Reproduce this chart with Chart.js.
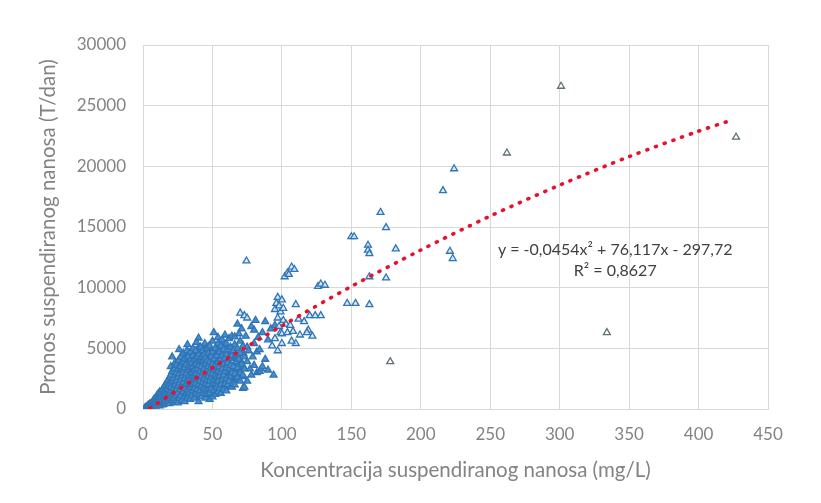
<!DOCTYPE html>
<html>
<head>
<meta charset="utf-8">
<script src="https://cdn.jsdelivr.net/npm/chart.js@4.4.0/dist/chart.umd.min.js"></script>
<style>
  html, body { margin: 0; padding: 0; background: #ffffff; }
  #wrap { position: relative; width: 821px; height: 503px; }
</style>
</head>
<body>
<div id="wrap"><canvas id="c" width="821" height="503"></canvas></div>
<script>
// ---------- DATA ----------
const xAxisTitle = 'Koncentracija suspendiranog nanosa (mg/L)';
const yAxisTitle = 'Pronos suspendiranog nanosa (T/dan)';
const xTicks = [0, 50, 100, 150, 200, 250, 300, 350, 400, 450];
const yTicks = [0, 5000, 10000, 15000, 20000, 25000, 30000];
const equationLines = ['y = -0,0454x² + 76,117x - 297,72', 'R² = 0,8627'];

// dense cluster of observations [concentration mg/L, transport T/dan]
const clusterPoints = [
  [1,30],[1.5,60],[2,90],[2,150],[2.5,120],[3,200],[3,80],[3.5,260],
  [4,150],[4,330],[4.5,240],[5,120],[5,420],[5,300],[5.5,200],[6,500],[6,350],[6,160],
  [7,250],[7,600],[7,430],[7.5,700],[8,320],[8,520],[8,800],[8.5,400],[9,650],[9,230],[9,900],
  [10,300],[10,560],[10,820],[10,1100],[10.5,700],[11,420],[11,950],[11,1250],[11.5,600],[12,250],[12,800],[12,1100],[12,1400],
  [13,500],[13,950],[13,1300],[13.5,700],[14,350],[14,1150],[14,1600],[14.5,900],[15,600],[15,1350],[15,1800],[15.5,1050],[15,400],
  [16,750],[16,1200],[16,1550],[16,2000],[16.5,500],[17,950],[17,1400],[17,1750],[17.5,2200],[18,650],[18,1100],[18,1600],[18,2400],[18.5,1900],
  [19,450],[19,850],[19,1300],[19,2100],[19.5,2600],[20,1000],[20,1500],[20,1800],[20,2800],[20,3500],[20.5,700],[21,1200],[21,2300],[21,4300],[21,3100],
  [22,550],[22,900],[22,1700],[22,2500],[22.5,3300],[23,1400],[23,2000],[23,2800],[23,3800],[23.5,1100],[24,700],[24,1600],[24,2300],[24,3000],[24,3600],
  [25,500],[25,1300],[25,1900],[25,2600],[25,3300],[25.5,4000],[26,900],[26,2100],[26,2900],[26,4900],[26.5,1600],[27,1100],[27,2400],[27,3500],[27,4300],
  [28,700],[28,1800],[28,2700],[28,3200],[28.5,3900],[29,1400],[29,2200],[29,3000],[29,4600],[29.5,1000],[30,1700],[30,2500],[30,3400],[30,4100],[30,600],
  [31,1200],[31,2000],[31,2900],[31,3700],[31.5,4800],[32,900],[32,1600],[32,2400],[32,3200],[32,5300],[32.5,4300],[33,1300],[33,2100],[33,2700],[33,3600],
  [34,800],[34,1800],[34,2500],[34,3400],[34,4000],[34.5,4700],[35,1100],[35,2200],[35,3000],[35,3800],[35.5,1500],[36,2000],[36,2700],[36,3500],[36,4400],[36,5000],
  [37,900],[37,1700],[37,2400],[37,3200],[37,4100],[38,1300],[38,2100],[38,2900],[38,3700],[38,4800],[38.5,5500],[39,1600],[39,2500],[39,3300],[39,4300],
  [40,600],[40,1200],[40,2000],[40,2800],[40,3600],[40,4500],[40,5850],[41,1500],[41,2300],[41,3100],[41,3900],[41.5,5100],[42,1000],[42,1900],[42,2700],[42,3500],[42,4300],
  [43,1300],[43,2200],[43,3000],[43,4000],[43,4800],[44,1700],[44,2500],[44,3300],[44,4500],[44.5,5400],[45,900],[45,1500],[45,2100],[45,2900],[45,3700],[45,4200],
  [46,1200],[46,2400],[46,3200],[46,4000],[46,5000],[47,1600],[47,2000],[47,2700],[47,3500],[47,4600],[48,800],[48,1300],[48,2300],[48,3000],[48,3900],[48,5200],
  [49,1700],[49,2600],[49,3400],[49,4300],[50,1000],[50,2000],[50,2900],[50,3700],[50,4700],[50,5600],[51,1500],[51,2400],[51,3200],[51,4100],[51,6300],
  [52,1200],[52,2100],[52,2800],[52,3600],[52,5000],[53,1800],[53,2600],[53,3400],[53,4400],[54,1400],[54,2300],[54,3100],[54,3900],[54,5400],[54,5900],
  [55,1700],[55,2700],[55,3500],[55,4700],[56,2000],[56,3000],[56,4100],[56,5200],[56,1300],[57,2400],[57,3300],[57,4400],[57,5700],
  [58,1600],[58,2800],[58,3700],[58,4900],[59,2100],[59,3100],[59,4200],[59,6100],[60,1500],[60,2500],[60,3400],[60,4500],[60,5400],
  [61,2000],[61,3800],[61,4900],[62,2300],[62,3300],[62,4200],[62,5800],[63,2700],[63,3600],[63,5100],[64,1800],[64,3000],[64,4400],[64,6000],
  [65,2100],[65,3500],[65,4800],[66,2000],[66,2900],[66,5300],[66,5950],[67,3900],[67,4500],[68,2600],[68,3400],[68,5000],[68,7000],[69,4100],[69,6200],
  [70,2300],[70,3000],[70,4600],[70,5600],[71,3700],[71,6600],[72,1700],[72,2800],[72,5200],[73,1800],[73,3300],[73,4300],[74,6000],[75,2300],[75,3900],[75,5100],
  [76,4800],[77,3300],[78,6800],[78,2800],[79,4300],[80,3600],[80,5400],[80,6500],[81,7300],[82,3000],[82,4700],[83,5900],[84,4900],[84,3100],
  [85,3300],[86,3500],[86,6300],[88,7200],[88,4100],[90,3200],[90,5700],[92,6600],[94,2800],[95,6900]
];

// more observations inside the dense core
const corePoints = [
  [11,700],[13,1100],[14,750],[16,1000],[17,1200],[18,1350],[18,850],[19,1650],[20,1250],[20,2200],[21,1600],[21,1900],
  [22,1200],[22,2100],[22,2900],[23,1700],[23,2400],[23,3300],[24,1300],[24,1950],[24,2650],[25,1600],[25,2250],[25,2950],
  [26,1250],[26,1800],[26,2500],[26,3300],[26,3800],[27,1500],[27,2000],[27,2800],[27,3100],[28,1000],[28,1400],[28,2250],[28,3550],
  [29,1800],[29,2600],[29,3400],[29,4000],[30,1300],[30,2100],[30,2900],[30,3750],[31,1600],[31,2450],[31,3300],[31,4200],
  [32,1250],[32,2000],[32,2800],[32,3600],[32,4000],[33,1700],[33,2400],[33,3100],[33,4000],[33,4600],[34,1200],[34,2150],[34,2900],[34,3700],
  [35,1800],[35,2600],[35,3400],[35,4200],[36,1600],[36,2350],[36,3100],[36,3900],[37,1300],[37,2000],[37,2800],[37,3600],[37,4500],
  [38,1700],[38,2500],[38,3300],[38,4200],[39,1200],[39,2000],[39,2900],[39,3800],[39,4800],[40,1600],[40,2400],[40,3200],[40,4000],[40,5000],
  [41,1100],[41,1900],[41,2700],[41,3500],[41,4400],[42,1400],[42,2300],[42,3100],[42,3900],[42,4800],[43,1700],[43,2600],[43,3500],[43,4400],
  [44,1200],[44,2100],[44,2900],[44,3800],[44,4900],[45,1800],[45,2500],[45,3300],[45,4700],[46,1600],[46,2000],[46,2800],[46,3600],[46,4400],
  [47,1200],[47,2350],[47,3100],[47,4000],[47,5100],[48,1800],[48,2650],[48,3450],[48,4400],[49,1300],[49,2100],[49,3000],[49,3800],[49,4800],
  [50,1500],[50,2450],[50,3300],[50,4200],[51,1900],[51,2800],[51,3600],[51,4600],[52,1600],[52,2450],[52,3200],[52,4000],[52,4500],
  [53,1400],[53,2200],[53,3000],[53,3800],[53,4900],[54,1800],[54,2700],[54,3500],[54,4400],[55,2200],[55,3100],[55,3900],[55,4300],[55,5200],
  [56,1700],[56,2500],[56,3500],[56,4600],[57,1900],[57,2900],[57,3800],[57,4900],[58,2300],[58,3200],[58,4300],[58,5400],
  [59,1800],[59,2600],[59,3600],[59,4700],[60,2000],[60,3000],[60,3900],[60,5000],[61,2500],[61,3300],[61,4400],[62,2800],[62,3700],[62,4700],
  [63,2200],[63,3200],[63,4200],[64,2500],[64,3500],[64,4900],[65,2800],[65,4200],[66,3400],[66,4300],[67,2400],[67,3200],
  [68,3000],[68,4300],[69,2800],[69,3500],[70,4000],[71,2700],[72,3500],[72,4600]
];

// sparser observations at mid concentrations
const midPoints = [
  [74.5,12200],[70,7900],[73,7700],[75,7500],
  [93,5200],[95,5800],[97,4800],[99,6300],[100,5400],
  [95,8200],[96,8700],[97,9200],[98,8500],[99,8000],[100,9000],[101,8300],[97,7500],[98,6800],[100,6200],[101,7300],[103,7000],
  [102,10900],[104,11200],[105,11100],[107,11700],[109,11500],
  [110,8600],[110,5400],[107,5600],[104,6300],[106,6900],[108,6400],[112,7400],[113,6100],[116,7200],[119,6500],[120,7700],[118,6300],[122,6000],[124,7700],[128,7700],
  [126,10100],[128,10300],[131,10200],
  [147,8700],[153,8700],[163,8600],
  [150,14200],[152,14200],
  [162,13500],[162,13100],[163,12800],
  [163,10900],[175,10800],
  [171,16200],[175,14950],[182,13200],
  [221,13000],[223,12400],
  [216,18000],[224,19800]
];

// isolated high-concentration observations
const outlierPoints = [[262,21100],[301,26600],[334,6300],[178,3900],[427,22400]];

// polynomial trendline as drawn
const trendX = [5, 50, 100, 150, 200, 250, 300, 350, 400, 421];
const trendY = [80, 3400, 6850, 10100, 13100, 15900, 18450, 20800, 22900, 23700];

// ---------- CHART ----------
const toXY = arr => arr.map(p => ({x: p[0], y: p[1]}));
const trendData = trendX.map((x, i) => ({x: x, y: trendY[i]}));

const FONT = "Lato, 'Open Sans', 'Liberation Sans', sans-serif";
const GRID = '#d9d9d9';
const TEXT = '#838383';

const equationPlugin = {
  id: 'equation',
  afterDatasetsDraw(chart) {
    const ctx = chart.ctx;
    const xs = chart.scales.x, ys = chart.scales.y;
    const cx = xs.getPixelForValue(340);
    const y1 = ys.getPixelForValue(13080);
    const y2 = ys.getPixelForValue(11380);
    ctx.save();
    ctx.font = '16px ' + FONT;
    ctx.fillStyle = '#404040';
    ctx.textAlign = 'center';
    ctx.textBaseline = 'middle';
    ctx.fillText(equationLines[0], cx, y1);
    ctx.fillText(equationLines[1], cx, y2);
    ctx.restore();
  }
};

const triangleBase = { pointStyle: 'triangle', pointRadius: 4, pointBorderWidth: 1.3 };

new Chart(document.getElementById('c'), {
  type: 'scatter',
  data: {
    datasets: [
      {
        label: 'trend',
        type: 'line',
        data: trendData,
        showLine: true,
        borderColor: '#e8112d',
        borderWidth: 3.6,
        borderDash: [1, 8.2],
        borderCapStyle: 'round',
        pointRadius: 0,
        fill: false,
        tension: 0.3
      },
      Object.assign({
        label: 'outliers',
        data: toXY(outlierPoints),
        pointBorderColor: '#5f7077',
        pointBackgroundColor: 'rgba(255,255,255,0.9)'
      }, triangleBase),
      Object.assign({
        label: 'mid',
        data: toXY(midPoints),
        pointBorderColor: '#2e75b6',
        pointBackgroundColor: 'rgba(210,228,245,0.85)'
      }, triangleBase),
      Object.assign({
        label: 'cluster',
        data: toXY(clusterPoints),
        pointBorderColor: '#2e75b6',
        pointBackgroundColor: '#4a8dcd'
      }, triangleBase),
      Object.assign({
        label: 'core',
        data: toXY(corePoints),
        pointBorderColor: '#2e75b6',
        pointBackgroundColor: '#3a82c6'
      }, triangleBase, { pointRadius: 4.6 })
    ]
  },
  options: {
    responsive: false,
    animation: false,
    devicePixelRatio: 1,
    layout: { padding: { left: 0, right: 53, top: 45, bottom: 0 } },
    plugins: { legend: { display: false }, tooltip: { enabled: false } },
    scales: {
      x: {
        type: 'linear',
        min: 0, max: 450,
        afterBuildTicks: s => { s.ticks = xTicks.map(v => ({value: v})); },
        afterFit: s => { s.height = 94; },
        grid: { color: GRID, lineWidth: 1, drawTicks: false },
        border: { color: GRID },
        ticks: { color: TEXT, font: { family: FONT, size: 17 }, padding: 15, maxRotation: 0, callback: v => String(v) },
        title: { display: true, text: xAxisTitle, color: TEXT, font: { family: FONT, size: 20.5 }, padding: { top: 20, bottom: 20 } }
      },
      y: {
        type: 'linear',
        min: 0, max: 30000,
        afterBuildTicks: s => { s.ticks = yTicks.map(v => ({value: v})); },
        afterFit: s => { s.width = 143; },
        grid: { color: GRID, lineWidth: 1, drawTicks: false },
        border: { color: GRID },
        ticks: { color: TEXT, font: { family: FONT, size: 17 }, padding: 17, callback: v => String(v) },
        title: { display: true, text: yAxisTitle, color: TEXT, font: { family: FONT, size: 20.5 }, padding: { top: 36, bottom: 36 } }
      }
    }
  },
  plugins: [equationPlugin]
});
</script>
</body>
</html>
